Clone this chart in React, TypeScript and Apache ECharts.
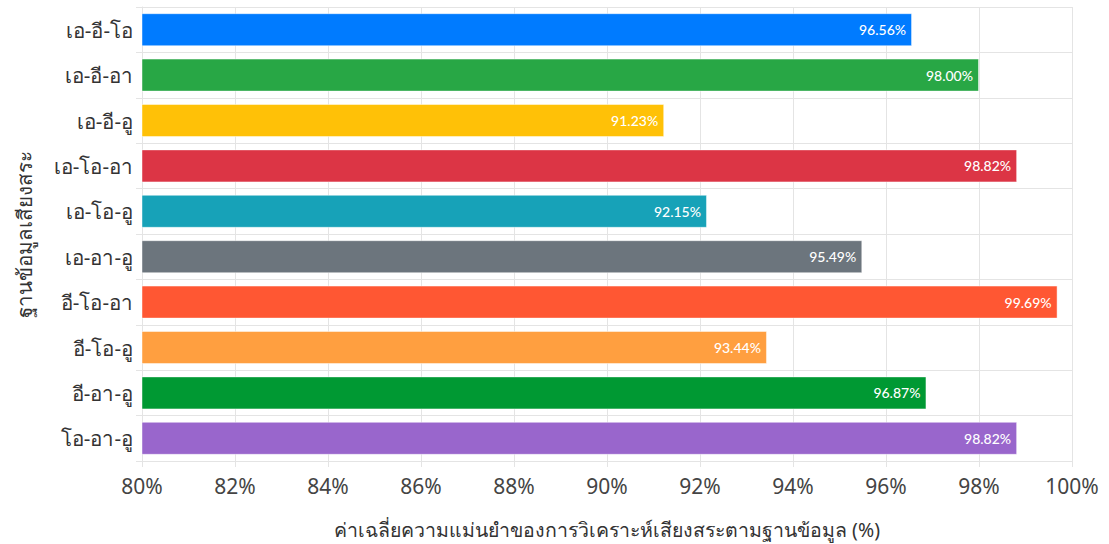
import React, { useEffect, useRef } from "react";
import * as echarts from "echarts";

const categories = [
  "เอ-อี-โอ",
  "เอ-อี-อา",
  "เอ-อี-อู",
  "เอ-โอ-อา",
  "เอ-โอ-อู",
  "เอ-อา-อู",
  "อี-โอ-อา",
  "อี-โอ-อู",
  "อี-อา-อู",
  "โอ-อา-อู",
];
const values = [96.56, 98.0, 91.23, 98.82, 92.15, 95.49, 99.69, 93.44, 96.87, 98.82];
const colors = [
  "#007bff",
  "#28a745",
  "#ffc107",
  "#dc3545",
  "#17a2b8",
  "#6c757d",
  "#ff5733",
  "#ff9f40",
  "#009933",
  "#9966cc",
];
const xTitle = "ค่าเฉลี่ยความแม่นยำของการวิเคราะห์เสียงสระตามฐานข้อมูล (%)";
const yTitle = "ฐานข้อมูลเสียงสระ";

export default function App() {
  const ref = useRef<HTMLDivElement>(null);
  useEffect(() => {
    document.body.style.margin = "0";
    if (!ref.current) return;
    const chart = echarts.init(ref.current, null, { renderer: "svg" });
    const font = "'Noto Sans', 'Open Sans', sans-serif";
    chart.setOption({
      animation: false,
      grid: { left: 142, right: 37, top: 7, bottom: 83, containLabel: false },
      xAxis: {
        type: "value",
        min: 80,
        max: 100,
        interval: 2,
        name: xTitle,
        nameLocation: "middle",
        nameGap: 58,
        nameTextStyle: { fontSize: 19.5, color: "#333", fontFamily: font },
        axisLabel: {
          formatter: "{value}%",
          fontSize: 21,
          color: "#444",
          margin: 14,
          fontFamily: font,
        },
        axisLine: { show: true, lineStyle: { color: "#e4e4e4" } },
        axisTick: { show: true, length: 6, lineStyle: { color: "#e4e4e4" } },
        splitLine: { show: true, lineStyle: { color: "#e4e4e4" } },
      },
      yAxis: {
        type: "category",
        inverse: true,
        data: categories,
        name: yTitle,
        nameLocation: "middle",
        nameGap: 108,
        nameTextStyle: { fontSize: 20.5, color: "#333", fontFamily: font },
        axisLabel: { fontSize: 20.5, color: "#333", margin: 9, fontFamily: font },
        axisLine: { show: true, lineStyle: { color: "#e4e4e4" } },
        axisTick: { show: true, length: 6, lineStyle: { color: "#e4e4e4" } },
        splitLine: { show: true, lineStyle: { color: "#e4e4e4" } },
      },
      series: [
        {
          type: "bar",
          barWidth: 33,
          data: values.map((v, i) => ({
            value: v,
            itemStyle: {
              color: colors[i],
              borderColor: "rgba(255,255,255,0.45)",
              borderWidth: 1,
            },
          })),
          label: {
            show: true,
            position: "insideRight",
            distance: 6,
            color: "#fff",
            fontSize: 14,
            fontWeight: 500,
            fontFamily: "Lato, sans-serif",
            formatter: (p: any) => p.value.toFixed(2) + "%",
          },
        },
      ],
    });
    return () => chart.dispose();
  }, []);
  return <div ref={ref} style={{ width: 1109, height: 544 }} />;
}
